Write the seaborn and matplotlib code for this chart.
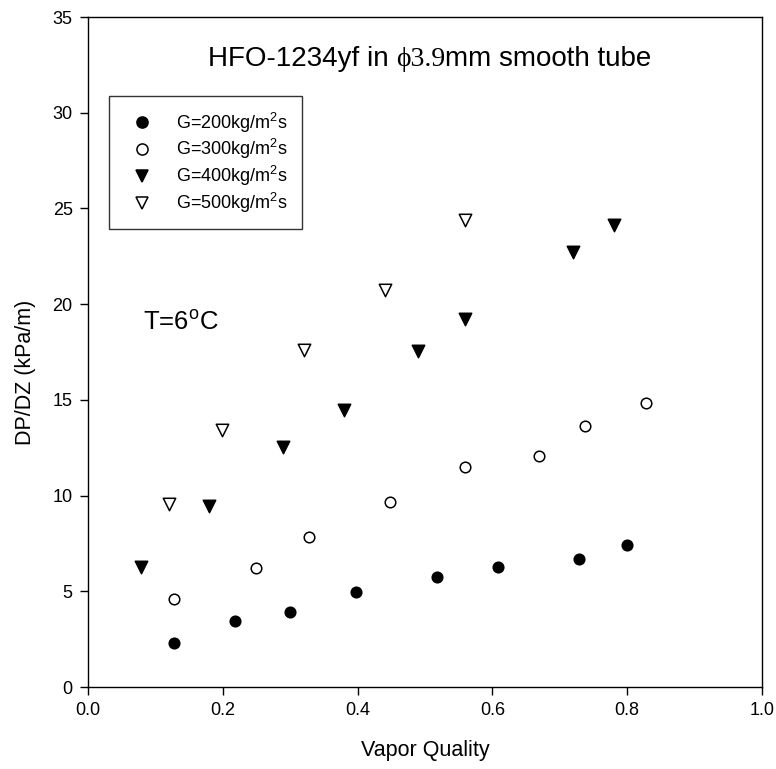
import numpy as np
import pandas as pd
import matplotlib
matplotlib.use("Agg")
import matplotlib.pyplot as plt
import seaborn as sns
from matplotlib.offsetbox import TextArea, HPacker, AnchoredOffsetbox

# ---- data ----
x_200 = [0.128, 0.218, 0.299, 0.398, 0.518, 0.608, 0.729, 0.799]
y_200 = [2.30, 3.47, 3.92, 4.97, 5.75, 6.27, 6.71, 7.40]
x_300 = [0.128, 0.249, 0.328, 0.448, 0.559, 0.669, 0.738, 0.828]
y_300 = [4.58, 6.24, 7.84, 9.65, 11.48, 12.06, 13.64, 14.86]
x_400 = [0.079, 0.180, 0.290, 0.380, 0.490, 0.560, 0.719, 0.781]
y_400 = [6.25, 9.48, 12.53, 14.48, 17.56, 19.22, 22.74, 24.13]
x_500 = [0.120, 0.199, 0.320, 0.440, 0.560]
y_500 = [9.56, 13.40, 17.63, 20.75, 24.39]
labels = ["G=200kg/m$^2$s", "G=300kg/m$^2$s", "G=400kg/m$^2$s", "G=500kg/m$^2$s"]
x_ticks = [0.0, 0.2, 0.4, 0.6, 0.8, 1.0]
x_ticklabels = ["0.0", "0.2", "0.4", "0.6", "0.8", "1.0"]
y_ticks = [0, 5, 10, 15, 20, 25, 30, 35]

sns.set_style("ticks")
plt.rcParams["font.family"] = ["Liberation Sans", "DejaVu Sans"]
plt.rcParams["mathtext.fontset"] = "custom"
plt.rcParams["mathtext.rm"] = "Liberation Sans"
plt.rcParams["mathtext.it"] = "Liberation Sans:italic"
plt.rcParams["mathtext.bf"] = "Liberation Sans:bold"
plt.rcParams["mathtext.default"] = "regular"
for k in ["text.color", "axes.labelcolor", "xtick.color", "ytick.color", "axes.edgecolor"]:
    plt.rcParams[k] = "black"

fig = plt.figure(figsize=(7.76, 7.69), dpi=100)
ax = fig.add_axes([88/776, 1-687/769, 674/776, 670/769])

series = [
    (x_200, y_200, "o", "black", "black", 58),
    (x_300, y_300, "o", "white", "black", 58),
    (x_400, y_400, "v", "black", "black", 80),
    (x_500, y_500, "v", "white", "black", 80),
]
handles = []
for (xs, ys, m, fc, ec, s), lab in zip(series, labels):
    df = pd.DataFrame({"x": xs, "y": ys})
    sns.scatterplot(data=df, x="x", y="y", marker=m, s=s, color=fc,
                    edgecolor=ec, linewidth=1.1, ax=ax, zorder=3)
    handles.append(plt.Line2D([], [], linestyle="none", marker=m,
                              markersize=8 if m == "o" else 9,
                              markerfacecolor=fc, markeredgecolor=ec,
                              markeredgewidth=1.1, label=lab))

ax.set_xlim(0, 1.0)
ax.set_ylim(0, 35)
ax.set_xticks(x_ticks)
ax.set_xticklabels(x_ticklabels)
ax.set_yticks(y_ticks)
ax.tick_params(direction="out", length=6, width=1, labelsize=13,
               colors="black", pad=5)
for sp in ax.spines.values():
    sp.set_visible(True)
    sp.set_color("black")
    sp.set_linewidth(1.0)
ax.set_xlabel("Vapor Quality", fontsize=15.5, labelpad=15)
ax.set_ylabel("DP/DZ (kPa/m)", fontsize=15.5, labelpad=12, y=0.47)

leg = ax.legend(handles=handles, loc="upper left",
                bbox_to_anchor=((109-88)/674, (687-96)/670),
                borderaxespad=0, frameon=True, fancybox=False,
                edgecolor="black", fontsize=13, handletextpad=0.8,
                labelspacing=0.15, borderpad=0.8, handlelength=2.1)
leg.get_frame().set_linewidth(1.0)

# Title inside plot with serif phi part
t1 = TextArea("HFO-1234yf in ", textprops=dict(fontsize=20, family="Liberation Sans"))
t2 = TextArea("\u03d53.9", textprops=dict(fontsize=20, family="Liberation Serif"))
t3 = TextArea("mm smooth tube", textprops=dict(fontsize=20, family="Liberation Sans"))
box = HPacker(children=[t1, t2, t3], align="baseline", pad=0, sep=0)
ab = AnchoredOffsetbox(loc="center", child=box, frameon=False,
                       bbox_to_anchor=(0.507, 32.8), bbox_transform=ax.transData,
                       pad=0, borderpad=0)
ax.add_artist(ab)

ax.text(0.0816, 19.0, "T=6$^{\\mathrm{o}}$C", fontsize=18.5, ha="left", va="center")

fig.savefig("out.png", dpi=100)
